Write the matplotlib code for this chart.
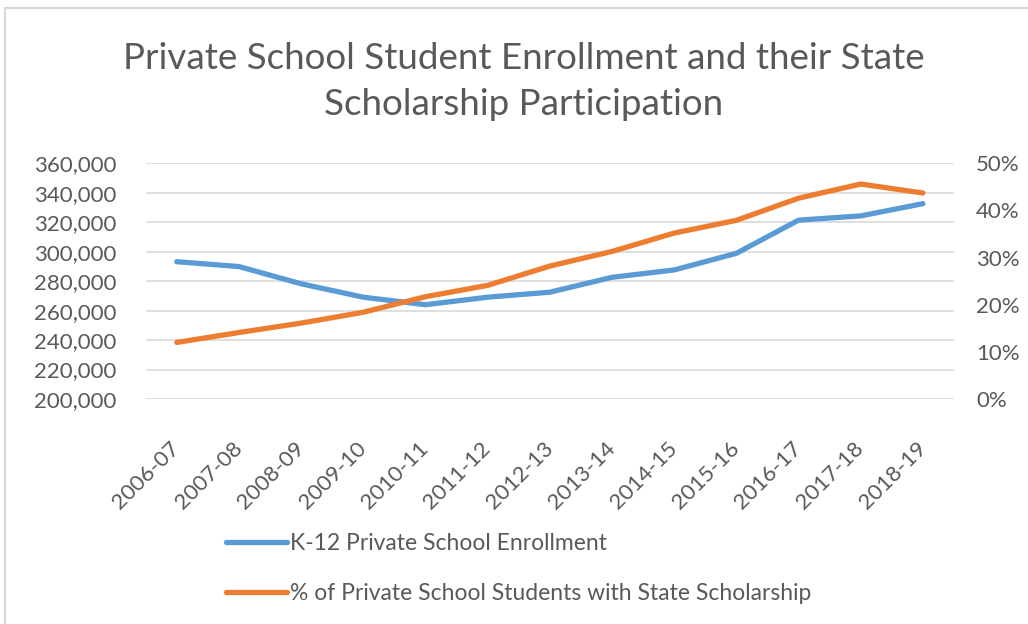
import numpy as np
import matplotlib
matplotlib.use("Agg")
import matplotlib.pyplot as plt
from matplotlib.patches import Rectangle
from matplotlib.ticker import FuncFormatter

# values
years = ['2006-07', '2007-08', '2008-09', '2009-10', '2010-11', '2011-12', '2012-13',
         '2013-14', '2014-15', '2015-16', '2016-17', '2017-18', '2018-19']
enrollment = [293200, 289900, 278200, 269100, 264000, 269100, 272500,
              282600, 287600, 298900, 321400, 324300, 332600]
scholarship_pct = [12.0, 14.1, 16.1, 18.4, 21.7, 24.1, 28.2,
                   31.3, 35.2, 37.9, 42.6, 45.6, 43.7]

title = 'Private School Student Enrollment and their State\nScholarship Participation'
label_enroll = 'K-12 Private School Enrollment'
label_pct = '% of Private School Students with State Scholarship'

blue = '#5B9BD5'
orange = '#ED7D31'
text_gray = '#595959'
grid_gray = '#D9D9D9'

plt.rcParams['font.family'] = ['Lato', 'DejaVu Sans']

fig = plt.figure(figsize=(10.28, 6.24), dpi=100)
ax = fig.add_axes([0.1417, 0.3606, 0.9280 - 0.1417, 0.7383 - 0.3606])
ax2 = ax.twinx()

x = np.arange(len(years))
l1, = ax.plot(x, enrollment, color=blue, lw=3.8, solid_capstyle='round',
              solid_joinstyle='round', label=label_enroll)
l2, = ax2.plot(x, scholarship_pct, color=orange, lw=3.8, solid_capstyle='round',
               solid_joinstyle='round', label=label_pct)

ax.set_xlim(-0.5, len(years) - 0.5)
ax.set_ylim(200000, 360000)
ax.set_yticks(np.arange(200000, 360001, 20000))
ax.yaxis.set_major_formatter(FuncFormatter(lambda v, p: f'{v:,.0f}'))
ax2.set_ylim(0, 50)
ax2.set_yticks(np.arange(0, 51, 10))
ax2.yaxis.set_major_formatter(FuncFormatter(lambda v, p: f'{v:.0f}%'))

ax.grid(axis='y', color=grid_gray, lw=1.2)
ax.set_axisbelow(True)
for a in (ax, ax2):
    for s in a.spines.values():
        s.set_visible(False)

ax.set_xticks(x)
ax.set_xticklabels(years, rotation=45, ha='right', va='center', rotation_mode='anchor')
ax.tick_params(axis='x', length=0, pad=33, labelsize=16, labelcolor=text_gray)
ax.tick_params(axis='y', length=0, pad=21, labelsize=16, labelcolor=text_gray)
ax2.tick_params(axis='y', length=0, pad=16, labelsize=16, labelcolor=text_gray)

fig.text(0.5097, 0.933, title, ha='center', va='top', fontsize=26.5,
         color=text_gray, linespacing=1.5)

fig.legend(handles=[l1, l2], loc='upper left', bbox_to_anchor=(226 / 1028, 1 - 533 / 624),
           frameon=False, fontsize=16.5, labelcolor=text_gray, handlelength=2.66,
           handletextpad=0.15, labelspacing=1.27, borderpad=0, borderaxespad=0)

# light frame around the chart area
fig.add_artist(Rectangle((5 / 1028, -0.1), 1.2, 1.1 - 8 / 624, transform=fig.transFigure,
                         fill=False, edgecolor=grid_gray, lw=1.5))

fig.savefig('out.png', dpi=100)
